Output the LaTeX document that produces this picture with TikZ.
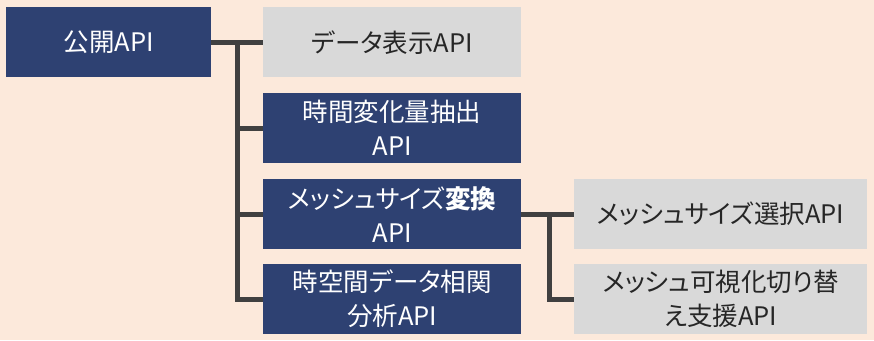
\documentclass[tikz,border=0pt]{standalone}
\usepackage{fontspec}
\newfontfamily\jp[RawFeature={+palt}]{Noto Sans CJK JP}
\definecolor{bgc}{HTML}{FCE9DB}
\definecolor{navy}{HTML}{2E4172}
\definecolor{lgrey}{HTML}{D9D9D9}
\definecolor{lnc}{HTML}{404040}
\definecolor{dtxt}{HTML}{262626}
\tikzset{
  base/.style={anchor=north west, inner sep=0pt, align=center, font=\jp\fontsize{25.5}{34}\selectfont},
  dark/.style={base, fill=navy, text=white},
  light/.style={base, fill=lgrey, text=dtxt},
  conn/.style={draw=lnc, line width=5pt}
}
\begin{document}
\begin{tikzpicture}[x=1pt,y=-1pt]
\fill[bgc] (0,0) rectangle (874,340);
\useasboundingbox (0,0) rectangle (874,340);
\node[dark, minimum width=205pt, minimum height=70pt] (root) at (6,7) {公開API};
\node[light, minimum width=258pt, minimum height=70pt] (b1) at (263,7) {データ表示API};
\node[dark, minimum width=258pt, minimum height=70pt] (b2) at (263,93) {時間変化量抽出\\API};
\node[dark, minimum width=258pt, minimum height=70pt] (b3) at (263,179) {メッシュサイズ\textbf{変換}\\API};
\node[dark, minimum width=258pt, minimum height=70pt] (b4) at (263,264) {時空間データ相関\\分析API};
\node[light, minimum width=293pt, minimum height=70pt] (b5) at (574,179) {メッシュサイズ選択API};
\node[light, minimum width=293pt, minimum height=70pt] (b6) at (574,264) {メッシュ可視化切り替\\え支援API};
\coordinate (t) at (237,42);
\coordinate (u) at (549,214);
\draw[conn] (root.east) -- (b1.west);
\draw[conn] (t) |- (b2.west);
\draw[conn] (t) |- (b3.west);
\draw[conn] (t) |- (b4.west);
\draw[conn] (b3.east) -- (b5.west);
\draw[conn] (u) |- (b6.west);
\end{tikzpicture}
\end{document}
